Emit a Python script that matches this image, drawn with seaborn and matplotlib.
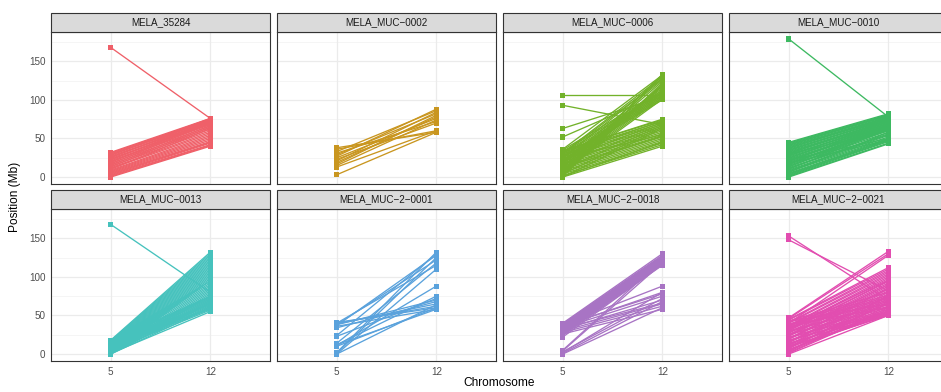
import numpy as np
import pandas as pd
import matplotlib
matplotlib.use("Agg")
import matplotlib.pyplot as plt
import seaborn as sns
from matplotlib.patches import Rectangle

sns.set_theme(style="white")
plt.rcParams["font.family"] = ["Liberation Sans", "DejaVu Sans"]

# ---------------- data ----------------
chromosomes = ["5", "12"]
panels = ["MELA_35284", "MELA_MUC\u22120002", "MELA_MUC\u22120006", "MELA_MUC\u22120010",
          "MELA_MUC\u22120013", "MELA_MUC\u22122\u22120001", "MELA_MUC\u22122\u22120018",
          "MELA_MUC\u22122\u22120021"]
colors = ["#EF6069", "#C9961F", "#72B22A", "#3DB961", "#46C2BD", "#5AA2DC", "#A874C4", "#E24DB0"]

c5_35284 = [168, 32, 31, 30, 29, 28, 27, 26, 25, 24, 23, 22, 21, 20, 19, 18, 17, 16, 15, 14,
            13, 12, 11, 10, 9, 8, 7, 6, 5, 4, 3, 2, 1, 0]
c12_35284 = [76, 76, 75, 74, 73, 76, 72, 71, 75, 70, 69, 73, 68, 66, 72, 64, 70, 62, 67, 60,
             65, 58, 56, 63, 54, 52, 50, 48, 46, 45, 44, 42, 41, 40]

c5_0002 = [38, 36, 33, 31, 29, 27, 25, 23, 21, 19, 17, 15, 13, 3]
c12_0002 = [58, 60, 86, 72, 82, 88, 76, 70, 84, 78, 80, 74, 60, 58]

c5_0006 = [106, 93, 63, 52, 35, 34, 33, 32, 31, 30, 29, 28, 27, 26, 25, 24, 23, 22, 21, 20,
           19, 18, 17, 16, 15, 14, 13, 12, 11, 10, 9, 8, 7, 6, 5, 4, 3, 2, 1, 0,
           36, 34, 31, 28, 25, 22, 19, 16, 13, 10, 7, 4, 2, 0, 30, 24, 18, 12, 6, 1]
c12_0006 = [106, 68, 104, 108, 112, 74, 110, 72, 108, 70, 106, 68, 104, 66, 102, 64, 100, 62, 115, 60,
            113, 58, 111, 56, 109, 54, 107, 52, 105, 50, 103, 48, 101, 46, 118, 44, 120, 42, 122, 40,
            132, 75, 130, 73, 128, 71, 126, 69, 124, 67, 133, 65, 131, 63, 127, 55, 117, 53, 119, 45]

c5_0010 = [179, 45, 44, 43, 42, 41, 40, 39, 38, 37, 36, 35, 34, 33, 32, 31, 30, 29, 28, 27,
           26, 25, 24, 23, 22, 21, 20, 19, 18, 17, 16, 15, 14, 13, 12, 11, 10, 9, 8, 7,
           6, 5, 4, 3, 2, 1, 0, 22, 18, 30]
c12_0010 = [78, 82, 81, 80, 79, 80, 78, 77, 76, 78, 75, 74, 76, 73, 72, 71, 74, 70, 69, 72,
            68, 67, 70, 66, 65, 64, 68, 63, 62, 61, 66, 60, 58, 64, 56, 55, 62, 54, 52, 50,
            58, 49, 48, 47, 46, 44, 43, 50, 48, 60]

c5_0013 = [168, 18, 17, 16, 15, 14, 13, 12, 11, 10, 9, 8, 7, 6, 5, 4, 3, 2, 1, 0,
           18, 16, 14, 12, 10, 8, 6, 4, 2, 0, 17, 15, 13, 11, 9, 7, 5, 3, 1, 0,
           15, 12, 9, 6, 3, 0, 14, 10, 5, 1]
c12_0013 = [80, 132, 130, 128, 126, 124, 122, 120, 118, 116, 114, 112, 110, 108, 106, 104, 102, 100, 98, 96,
            94, 92, 90, 88, 86, 84, 82, 80, 78, 76, 75, 74, 73, 72, 71, 70, 69, 68, 67, 66,
            65, 64, 63, 62, 61, 60, 59, 58, 57, 55]

c5_2_0001 = [41, 40, 39, 38, 37, 36, 34, 24, 23, 14, 12, 11, 10, 2, 1, 0, 0, 40, 38, 12]
c12_2_0001 = [60, 62, 65, 122, 128, 58, 68, 130, 72, 118, 75, 88, 60, 132, 125, 64, 110, 115, 70, 58]

c5_2_0018 = [40, 39, 38, 37, 36, 35, 34, 33, 32, 31, 30, 29, 28, 27, 26, 25, 24, 22, 38, 36,
             34, 32, 30, 28, 26, 5, 4, 3, 2, 1, 0, 37, 33]
c12_2_0018 = [130, 128, 127, 126, 125, 124, 123, 122, 121, 120, 119, 118, 117, 116, 118, 115, 120, 116, 88, 80,
              75, 70, 65, 62, 58, 122, 118, 72, 80, 68, 60, 78, 66]

c5_2_0021 = [153, 148, 47, 46, 45, 44, 43, 42, 41, 40, 39, 38, 37, 36, 35, 34, 33, 32, 31, 30,
             29, 28, 27, 26, 25, 24, 23, 22, 21, 20, 19, 18, 17, 16, 15, 14, 13, 12, 11, 10,
             9, 8, 7, 6, 5, 4, 3, 2, 1, 0, 40, 35, 30, 25, 20, 15, 10, 5, 42, 38]
c12_2_0021 = [70, 82, 133, 130, 112, 110, 80, 76, 108, 106, 74, 72, 104, 102, 70, 68, 100, 98, 95, 66,
              64, 92, 90, 62, 60, 88, 86, 58, 56, 84, 82, 55, 54, 80, 78, 53, 52, 76, 74, 51,
              50, 72, 70, 52, 55, 68, 66, 60, 58, 50, 128, 96, 94, 90, 85, 75, 65, 62, 65, 60]

pairs = [(c5_35284, c12_35284), (c5_0002, c12_0002), (c5_0006, c12_0006), (c5_0010, c12_0010),
         (c5_0013, c12_0013), (c5_2_0001, c12_2_0001), (c5_2_0018, c12_2_0018),
         (c5_2_0021, c12_2_0021)]

rows = []
for name, (a, b) in zip(panels, pairs):
    for k, (p5, p12) in enumerate(zip(a, b)):
        rows.append({"sample": name, "block": k, "x": 0, "pos": p5})
        rows.append({"sample": name, "block": k, "x": 1, "pos": p12})
df = pd.DataFrame(rows)

# ---------------- layout ----------------
W, H = 941, 392
fig = plt.figure(figsize=(W / 100, H / 100), dpi=100)
col_x = [51, 277, 503, 729]
pw = 219
row_y = [(32, 184), (209, 361)]
strip_h = 19
ylim = (-9, 188)

for i, name in enumerate(panels):
    r, c = divmod(i, 4)
    top, bot = row_y[r]
    ph = bot - top
    ax = fig.add_axes([col_x[c] / W, 1 - bot / H, pw / W, ph / H])
    sub = df[df["sample"] == name]
    ax.set_axisbelow(True)
    for yv in [25, 75, 125, 175]:
        ax.axhline(yv, color="#F2F2F2", lw=0.5, zorder=0)
    for yv in [0, 50, 100, 150]:
        ax.axhline(yv, color="#EBEBEB", lw=0.9, zorder=0)
    for xv in [0, 1]:
        ax.axvline(xv, color="#EBEBEB", lw=0.9, zorder=0)
    sns.lineplot(data=sub, x="x", y="pos", units="block", estimator=None,
                 color=colors[i], lw=0.95, ax=ax, legend=False, zorder=2)
    sns.scatterplot(data=sub, x="x", y="pos", marker="s", s=14, color=colors[i],
                    edgecolor="none", ax=ax, legend=False, zorder=3)
    ax.set_xlim(-0.6, 1.6)
    ax.set_ylim(*ylim)
    ax.set_xlabel("")
    ax.set_ylabel("")
    ax.set_xticks([0, 1])
    ax.set_yticks([0, 50, 100, 150])
    for s in ax.spines.values():
        s.set_color("#333333")
        s.set_linewidth(0.8)
    ax.tick_params(axis="both", length=2.5, width=0.6, color="#333333",
                   labelsize=7.1, labelcolor="#4D4D4D", pad=1.5)
    if r == 1:
        ax.set_xticklabels(chromosomes)
    else:
        ax.tick_params(axis="x", length=0, labelbottom=False)
    if c == 0:
        ax.set_yticklabels(["0", "50", "100", "150"])
    else:
        ax.tick_params(axis="y", length=0, labelleft=False)
    ax.grid(False)
    rect = Rectangle((0, 1), 1, strip_h / ph, transform=ax.transAxes, clip_on=False,
                     facecolor="#DADADA", edgecolor="#333333", lw=0.8, zorder=5)
    ax.add_patch(rect)
    ax.text(0.5, 1 + strip_h / ph / 2, name, transform=ax.transAxes, ha="center",
            va="center", fontsize=7.1, color="#1A1A1A", zorder=6)

fig.text(15 / W, 1 - 197 / H, "Position (Mb)", rotation=90, ha="center", va="center",
         fontsize=8.6, color="black")
fig.text(499 / W, 1 - 383 / H, "Chromosome", ha="center", va="center",
         fontsize=8.6, color="black")

fig.savefig("out.png", dpi=100, facecolor="white")
